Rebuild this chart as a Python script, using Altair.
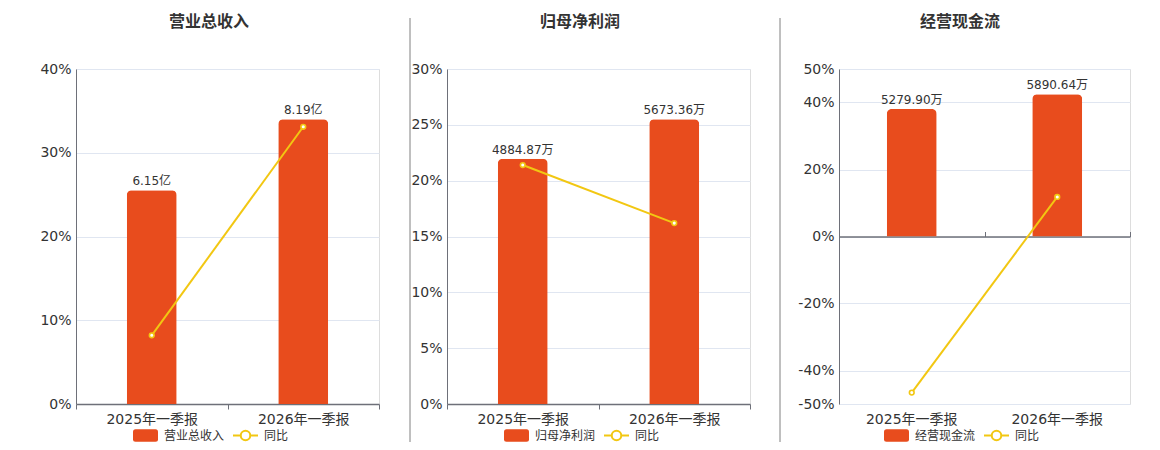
import altair as alt
import pandas as pd

categories = ["2025年一季报", "2026年一季报"]

revenue = [6.15, 8.19]
revenue_labels = ["6.15亿", "8.19亿"]
revenue_yoy = [8.2, 33.1]

profit = [4884.87, 5673.36]
profit_labels = ["4884.87万", "5673.36万"]
profit_yoy = [21.4, 16.2]

cashflow = [5279.90, 5890.64]
cashflow_labels = ["5279.90万", "5890.64万"]
cashflow_yoy = [-46.6, 11.8]

titles = ["营业总收入", "归母净利润", "经营现金流"]
yoy_name = "同比"

RED = "#E84C1D"
YEL = "#F2C712"
TXT = "#333333"
AXC = "#6E7079"
GRID = "#E0E6F1"
FONT = "DejaVu Sans, Noto Sans CJK SC"
H = 335

RECT_PATH = "M-0.8,-0.5L0.8,-0.5Q1,-0.5,1,-0.3L1,0.3Q1,0.5,0.8,0.5L-0.8,0.5Q-1,0.5,-1,0.3L-1,-0.3Q-1,-0.5,-0.8,-0.5Z"
LINE_PATH = "M-1,0L-0.38,0M0.38,0L1,0M0.38,0A0.38,0.38,0,1,1,-0.38,0A0.38,0.38,0,1,1,0.38,0Z"


def legend(lx, path, **kw):
    return alt.Legend(
        title=None, orient="none", legendX=lx, legendY=H + 18, direction="horizontal",
        labelFontSize=12, labelColor=TXT, labelFont=FONT, labelOffset=5,
        symbolSize=625, symbolType=path, padding=0, symbolOpacity=1, **kw,
    )


def panel(title, vals, labels, yoy, ydom, yticks, bdom, w, extent, sep_x, sep_op, lx, tdx, zero_axis):
    df = pd.DataFrame({
        "cat": categories, "val": vals, "label": labels, "yoy": yoy,
        "s_bar": [title] * len(categories), "s_line": [yoy_name] * len(categories),
    })
    base = alt.Chart(df)
    xs = alt.Scale(paddingInner=0, paddingOuter=0)
    if zero_axis:
        x_bar_axis = alt.Axis(title=None, labelAngle=0, domain=False, ticks=False,
                              labelFontSize=14, labelColor=TXT, labelFont=FONT, labelPadding=8)
        x_line_axis = alt.Axis(title=None, labels=False, domain=True, ticks=True, tickBand="extent",
                               tickSize=5, domainColor=AXC, tickColor=AXC, domainWidth=1.5,
                               offset=-H / 2, grid=False)
        x_other = None
    else:
        x_bar_axis = alt.Axis(title=None, labelAngle=0, tickBand="extent", tickSize=5,
                              domainColor=AXC, tickColor=AXC, domainWidth=1.5,
                              labelFontSize=14, labelColor=TXT, labelFont=FONT, labelPadding=3)
        x_line_axis = x_bar_axis
        x_other = x_bar_axis

    def X(ax):
        return alt.X("cat:N", sort=categories, scale=xs, axis=ax)

    bscale = alt.Scale(domain=bdom, nice=False, zero=True)
    lscale = alt.Scale(domain=ydom, nice=False)

    bars = base.mark_bar(size=50, cornerRadiusTopLeft=5, cornerRadiusTopRight=5).encode(
        x=X(x_bar_axis),
        y=alt.Y("val:Q", scale=bscale, axis=None),
        fill=alt.Fill("s_bar:N", scale=alt.Scale(domain=[title], range=[RED]),
                      legend=legend(lx, RECT_PATH)),
    )
    text = base.mark_text(baseline="bottom", dy=-2, fontSize=12, color=TXT, font=FONT).encode(
        x=X(x_other),
        y=alt.Y("val:Q", scale=bscale, axis=None),
        text="label:N",
    )
    line = base.mark_line(strokeWidth=2).encode(
        x=X(x_line_axis),
        y=alt.Y("yoy:Q", scale=lscale, axis=alt.Axis(
            title=None, orient="left", values=yticks, labelExpr="datum.value + '%'",
            ticks=False, labelPadding=5, labelFontSize=14, labelColor=TXT, labelFont=FONT,
            domainColor=AXC, gridColor=GRID, grid=True, labelOverlap=False,
            minExtent=extent, maxExtent=extent)),
        stroke=alt.Stroke("s_line:N", scale=alt.Scale(domain=[yoy_name], range=[YEL]),
                          legend=legend(lx + 100, LINE_PATH, symbolStrokeWidth=2,
                                        symbolFillColor="#ffffff")),
    )
    pts = base.mark_point(shape="circle", size=22, filled=True, fill="white", stroke=YEL,
                          strokeWidth=1.6, opacity=1).encode(
        x=X(x_other),
        y=alt.Y("yoy:Q", scale=lscale, axis=None),
    )
    sep = base.mark_rule(color="#AAAAAA", strokeWidth=1, opacity=sep_op).encode(
        x=alt.value(sep_x), y=alt.value(-51), y2=alt.value(H + 38),
    )
    ch = alt.layer(sep, bars, line, pts, text).resolve_scale(y="independent")
    if zero_axis:
        ch = ch.resolve_axis(x="independent")
    return ch.properties(
        width=w, height=H,
        title=alt.TitleParams(text=title, fontSize=16, fontWeight="bold", color=TXT, font=FONT,
                              anchor="middle", frame="group", dx=tdx, offset=-12),
    )


p1 = panel(titles[0], revenue, revenue_labels, revenue_yoy, [0, 40], [0, 10, 20, 30, 40],
           [0, max(revenue) / 0.85], 303, 62, 0, 0, 56, -18.5, False)
p2 = panel(titles[1], profit, profit_labels, profit_yoy, [0, 30], [0, 5, 10, 15, 20, 25, 30],
           [0, max(profit) / 0.85], 303, 47, -37, 1, 56, -18.5, False)
p3 = panel(titles[2], cashflow, cashflow_labels, cashflow_yoy, [-50, 50],
           [-50, -40, -20, 0, 20, 40, 50],
           [-max(cashflow) / 0.85, max(cashflow) / 0.85], 291, 68, -59, 1, 44, -24.5, True)

chart = alt.hconcat(p1, p2, p3, spacing=19).resolve_scale(
    fill="independent", stroke="independent").configure_view(stroke=None).configure(font=FONT)

chart.save("out.html", embed_options={"renderer": "svg", "actions": False})
